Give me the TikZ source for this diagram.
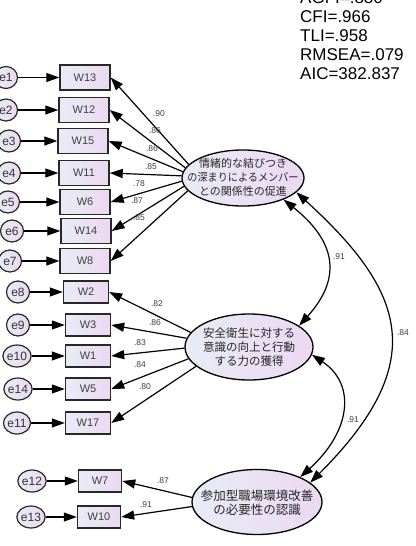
\documentclass[tikz,border=0pt]{standalone}
\usepackage{fontspec}
\setmainfont{Liberation Sans}
\newfontfamily\jp{Noto Sans CJK JP}
\usetikzlibrary{arrows.meta,shapes.geometric}
\definecolor{gl}{RGB}{232,236,245}
\definecolor{gr}{RGB}{236,216,242}
\definecolor{edgec}{RGB}{40,40,40}
\tikzset{
  obs/.style={draw=edgec, line width=1.4pt, left color=gl, right color=gr,
    minimum width=50pt, minimum height=25pt, inner sep=0pt,
    font=\fontsize{11}{12}\selectfont, text=black!75},
  obsb/.style={obs, minimum width=45pt, minimum height=22pt},
  obsc/.style={obs, minimum width=43pt, minimum height=22pt},
  err/.style={ellipse, draw=edgec, line width=1.2pt, left color=gl, right color=gr,
    minimum width=23pt, minimum height=22pt, inner sep=0pt,
    font=\fontsize{12}{13}\selectfont, text=black!80},
  lat/.style={ellipse, draw=black, line width=1.3pt, left color=gl, right color=gr, inner sep=0pt},
  lattext/.style={align=center, inner sep=0pt, text=black!85},
  arr/.style={-{Triangle[length=13pt,width=9pt]}, line width=1.2pt},
  cov/.style={{Triangle[length=13pt,width=9pt]}-{Triangle[length=13pt,width=9pt]}, line width=1.2pt},
  coef/.style={font=\fontsize{8.5}{9}\selectfont, text=black!75, inner sep=0pt},
}
\begin{document}
\begin{tikzpicture}[x=1pt,y=-1pt]
\useasboundingbox[fill=white] (0,0) rectangle (415,546);

% fit indices
\node[anchor=north west, align=left, inner sep=0pt, font=\fontsize{17}{19}\selectfont] (fit) at (300,-8.7)
  {AGFI=.880\\CFI=.966\\TLI=.958\\RMSEA=.079\\AIC=382.837};

% latent variables
\node[lat, minimum width=122pt, minimum height=56pt] (L1) at (243,178) {};
\node[lattext, font=\jp\fontsize{11}{14}\selectfont] (L1t) at (243,177)
  {情緒的な結びつき\\\scalebox{0.92}[1]{の深まりによるメンバー}\\との関係性の促進};
\node[lat, minimum width=128pt, minimum height=66pt] (L2) at (249,347) {};
\node[lattext, font=\jp\fontsize{11.5}{14}\selectfont] (L2t) at (249,347)
  {安全衛生に対する\\意識の向上と行動\\する力の獲得};
\node[lat, minimum width=130pt, minimum height=65pt] (L3) at (257,502) {};
\node[lattext, font=\jp\fontsize{12.5}{13.5}\selectfont] (L3t) at (257,503)
  {参加型職場環境改善\\の必要性の認識};

% group 1
\node[obs] (W13) at (85,77.5) {W13};
\node[obs] (W12) at (84,110) {W12};
\node[obs] (W15) at (83,141) {W15};
\node[obs] (W11) at (84,173) {W11};
\node[obs] (W6)  at (85,202) {W6};
\node[obs] (W14) at (86,231) {W14};
\node[obs] (W8)  at (85,261) {W8};
\node[err] (e1) at (6,77.5) {e1};
\node[err] (e2) at (6,110) {e2};
\node[err] (e3) at (9,141) {e3};
\node[err] (e4) at (9,173) {e4};
\node[err] (e5) at (8,202) {e5};
\node[err] (e6) at (12,231) {e6};
\node[err] (e7) at (10,261) {e7};

% group 2
\node[obsb] (W2)  at (86,292) {W2};
\node[obsb] (W3)  at (88,325) {W3};
\node[obsb] (W1)  at (88,356) {W1};
\node[obsb] (W5)  at (88,389) {W5};
\node[obsb] (W17) at (88,423) {W17};
\node[err] (e8)  at (18,292) {e8};
\node[err] (e9)  at (18,325) {e9};
\node[err] (e10) at (17,356) {e10};
\node[err] (e14) at (18,389) {e14};
\node[err] (e11) at (17,423) {e11};

% group 3
\node[obsc] (W7)  at (100,481) {W7};
\node[obsc] (W10) at (99,517) {W10};
\node[err] (e12) at (32,481) {e12};
\node[err] (e13) at (31,517) {e13};

% error arrows
\foreach \e/\w in {e1/W13,e2/W12,e3/W15,e4/W11,e5/W6,e6/W14,e7/W8,
                   e8/W2,e9/W3,e10/W1,e14/W5,e11/W17,e12/W7,e13/W10}
  \draw[arr] (\e) -- (\w);

% loadings
\draw[arr] (L1.166) -- (W13.east);
\draw[arr] (L1.170) -- (W12.east);
\draw[arr] (L1.174) -- (W15.east);
\draw[arr] (L1.178) -- (W11.east);
\draw[arr] (L1.183) -- (W6.east);
\draw[arr] (L1.188) -- (W14.east);
\draw[arr] (L1.193) -- (W8.east);

\draw[arr] (L2.166) -- (W2.east);
\draw[arr] (L2.172) -- (W3.east);
\draw[arr] (L2.181) -- (W1.east);
\draw[arr] (L2.191) -- (W5.east);
\draw[arr] (L2.200) -- (W17.east);

\draw[arr] (L3.176) -- (W7.east);
\draw[arr] (L3.184) -- (W10.east);

% coefficients
\node[coef] (c1) at (159,114) {.90};
\node[coef] (c2) at (155,131) {.86};
\node[coef] (c3) at (152,149) {.86};
\node[coef] (c4) at (151,167) {.85};
\node[coef] (c5) at (139,184) {.78};
\node[coef] (c6) at (137,201) {.87};
\node[coef] (c7) at (139,218) {.85};
\node[coef] (c8) at (157,304) {.82};
\node[coef] (c9) at (155,323) {.86};
\node[coef] (c10) at (140,343) {.83};
\node[coef] (c11) at (140,365) {.84};
\node[coef] (c12) at (145,387) {.80};
\node[coef] (c13) at (163,481) {.87};
\node[coef] (c14) at (146,505) {.91};

% covariances
\draw[cov] (L1.-28) .. controls +(50,40) and +(45,-50) .. (L2.23);
\draw[cov] (L1.-15) .. controls +(110,100) and +(120,-120) .. (L3.20);
\draw[cov] (L2.-7) .. controls +(45,30) and +(50,-45) .. (L3.30);
\node[coef] (k1) at (339,257) {.91};
\node[coef] (k2) at (403,333) {.84};
\node[coef] (k3) at (353,420) {.91};
\end{tikzpicture}
\end{document}
